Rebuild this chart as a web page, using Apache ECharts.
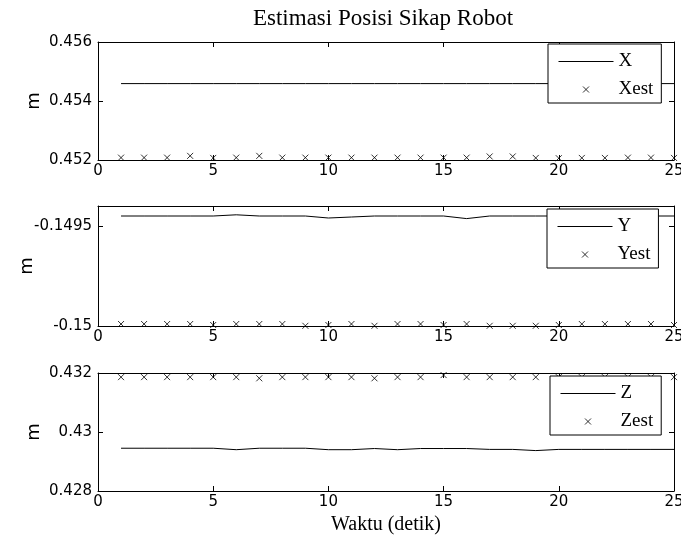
<!DOCTYPE html>
<html>
<head>
<meta charset="utf-8">
<script src="https://cdn.jsdelivr.net/npm/echarts@6/dist/echarts.min.js"></script>
<style>
html,body{margin:0;padding:0;background:#fff;}
#c{width:681px;height:544px;}
</style>
</head>
<body>
<div id="c"></div>
<script>
// ---- data ----
const t = [1,2,3,4,5,6,7,8,9,10,11,12,13,14,15,16,17,18,19,20,21,22,23,24,25];

const X    = [0.45459,0.45459,0.45459,0.45459,0.45459,0.45459,0.45459,0.45459,0.45459,0.45459,0.45459,0.45459,0.45459,0.45459,0.45459,0.45459,0.45459,0.45459,0.45459,0.45459,0.45459,0.45459,0.45459,0.45459,0.45459];
const Xest = [0.45208,0.45208,0.45208,0.45214,0.45207,0.45208,0.45214,0.45208,0.45208,0.45208,0.45208,0.45208,0.45208,0.45208,0.45208,0.45208,0.45212,0.45212,0.45207,0.45206,0.45207,0.45207,0.45208,0.45208,0.45207];

const Y    = [-0.14945,-0.14945,-0.14945,-0.14945,-0.14945,-0.149444,-0.14945,-0.14945,-0.14945,-0.14946,-0.149455,-0.14945,-0.14945,-0.14945,-0.14945,-0.149463,-0.14945,-0.14945,-0.14945,-0.14945,-0.14945,-0.14945,-0.14945,-0.14945,-0.14945];
const Yest = [-0.14999,-0.14999,-0.14999,-0.14999,-0.149995,-0.14999,-0.14999,-0.14999,-0.149999,-0.149995,-0.14999,-0.149999,-0.14999,-0.14999,-0.149995,-0.14999,-0.149999,-0.149999,-0.149999,-0.149995,-0.14999,-0.14999,-0.14999,-0.14999,-0.149995];

const Z    = [0.42945,0.42945,0.42945,0.42945,0.42945,0.42940,0.42945,0.42945,0.42945,0.42940,0.42940,0.42944,0.42940,0.42944,0.42944,0.42944,0.42941,0.42941,0.42937,0.42941,0.42941,0.42941,0.42941,0.42941,0.42941];
const Zest = [0.43186,0.43186,0.43186,0.43186,0.43186,0.43186,0.43182,0.43186,0.43186,0.43186,0.43186,0.43182,0.43186,0.43186,0.43193,0.43186,0.43186,0.43186,0.43186,0.43186,0.43186,0.43186,0.43186,0.43186,0.43186];

const xTicks = [0,5,10,15,20,25];
const yTicksX = [0.452,0.454,0.456];
const yTicksY = [-0.15,-0.1495];
const yTicksZ = [0.428,0.43,0.432];
const yRanges = [[0.452,0.456],[-0.15,-0.1494],[0.428,0.432]];

const titleText = 'Estimasi Posisi Sikap Robot';
const xName = 'Waktu (detik)';
const yName = 'm';
const lineNames = ['X','Y','Z'];
const estNames = ['Xest','Yest','Zest'];

// ---- layout ----
const grids = [
  {left:98, top:42, width:576, height:118, outerBoundsMode:'none', containLabel:false},
  {left:98, top:206, width:576, height:120, outerBoundsMode:'none', containLabel:false},
  {left:98, top:373, width:576, height:118, outerBoundsMode:'none', containLabel:false}
];
const nameGaps = [55, 62, 55];
const legendPos = [{left:548, top:44},{left:547, top:209},{left:550, top:376}];

const tickFont = {fontFamily:'DejaVu Sans', fontSize:15, color:'#000'};
const serif = 'Liberation Serif';
const crossPath = 'path://M0 0L10 10M10 0L0 10';
const crossIcon = 'path://M0 0L0 0M14 14L14 14M4 4L10 10M10 4L4 10';
const lineIcon = 'path://M0 -3L0 -3M0 3L0 3M0 0L55 0';
const yTickSets = [yTicksX, yTicksY, yTicksZ];
const lineData = [X, Y, Z];
const estData = [Xest, Yest, Zest];

const xAxes = [], yAxes = [], series = [], legends = [];
for (let g = 0; g < 3; g++) {
  xAxes.push({
    type:'value', gridIndex:g, min:0, max:25, interval:5, position:'bottom',
    axisLine:{show:true, onZero:false, lineStyle:{color:'#000', width:1}},
    axisTick:{show:true, inside:true, length:5, customValues:xTicks, lineStyle:{color:'#000'}},
    axisLabel:Object.assign({show:true, margin:4, customValues:xTicks, formatter:v=>String(v)}, tickFont),
    splitLine:{show:false},
    name: g === 2 ? xName : '',
    nameLocation:'middle', nameGap:24, nameMoveOverlap:false,
    nameTextStyle:{fontFamily:serif, fontSize:20, color:'#000'}
  });
  xAxes.push({
    type:'value', gridIndex:g, min:0, max:25, interval:5, position:'top',
    axisLine:{show:true, onZero:false, lineStyle:{color:'#000', width:1}},
    axisTick:{show:true, inside:true, length:5, customValues:xTicks, lineStyle:{color:'#000'}},
    axisLabel:{show:false}, splitLine:{show:false}
  });
  const ticks = yTickSets[g];
  yAxes.push({
    type:'value', gridIndex:g, min:yRanges[g][0], max:yRanges[g][1], position:'left',
    axisLine:{show:true, onZero:false, lineStyle:{color:'#000', width:1}},
    axisTick:{show:true, inside:true, length:5, customValues:ticks, lineStyle:{color:'#000'}},
    axisLabel:Object.assign({show:true, margin:6, customValues:ticks, formatter:v=>String(v)}, tickFont),
    splitLine:{show:false},
    name:yName, nameLocation:'middle', nameGap:nameGaps[g], nameRotate:90, nameMoveOverlap:false,
    nameTextStyle:{fontFamily:'DejaVu Sans', fontSize:18, color:'#000'}
  });
  yAxes.push({
    type:'value', gridIndex:g, min:yRanges[g][0], max:yRanges[g][1], position:'right',
    axisLine:{show:true, onZero:false, lineStyle:{color:'#000', width:1}},
    axisTick:{show:true, inside:true, length:5, customValues:ticks, lineStyle:{color:'#000'}},
    axisLabel:{show:false}, splitLine:{show:false}
  });
  series.push({
    name:lineNames[g], type:'line', xAxisIndex:2*g, yAxisIndex:2*g,
    data:t.map((v,i)=>[v, lineData[g][i]]),
    symbol:'none', lineStyle:{color:'#000', width:1}, itemStyle:{color:'#000'},
    animation:false, z:2
  });
  series.push({
    name:estNames[g], type:'scatter', xAxisIndex:2*g, yAxisIndex:2*g,
    data:t.map((v,i)=>[v, estData[g][i]]),
    symbol:crossPath, symbolSize:6,
    itemStyle:{color:'transparent', borderColor:'#000', borderWidth:1},
    animation:false, z:3
  });
  legends.push({
    left:legendPos[g].left, top:legendPos[g].top, orient:'vertical',
    data:[
      {name:lineNames[g], icon:lineIcon, itemStyle:{color:'transparent', borderColor:'#000', borderWidth:1}},
      {name:estNames[g], icon:crossIcon, itemStyle:{color:'transparent', borderColor:'#000', borderWidth:1}}
    ],
    itemWidth:55, itemHeight:14, itemGap:9,
    padding:[8,8,4,10],
    backgroundColor:'#fff', borderColor:'#000', borderWidth:1,
    selectedMode:false,
    lineStyle:{width:1, color:'#000'},
    itemStyle:{borderWidth:1, borderColor:'#000', color:'transparent'},
    textStyle:{fontFamily:serif, fontSize:19, color:'#000', lineHeight:18}
  });
}

const option = {
  backgroundColor:'#fff',
  animation:false,
  title:{text:titleText, left:378, textAlign:'center', top:2, textStyle:{fontFamily:serif, fontSize:23, fontWeight:'normal', color:'#000'}},
  grid:grids,
  xAxis:xAxes, yAxis:yAxes,
  legend:legends,
  series:series
};
const chart = echarts.init(document.getElementById('c'));
chart.setOption(option);
</script>
</body>
</html>
